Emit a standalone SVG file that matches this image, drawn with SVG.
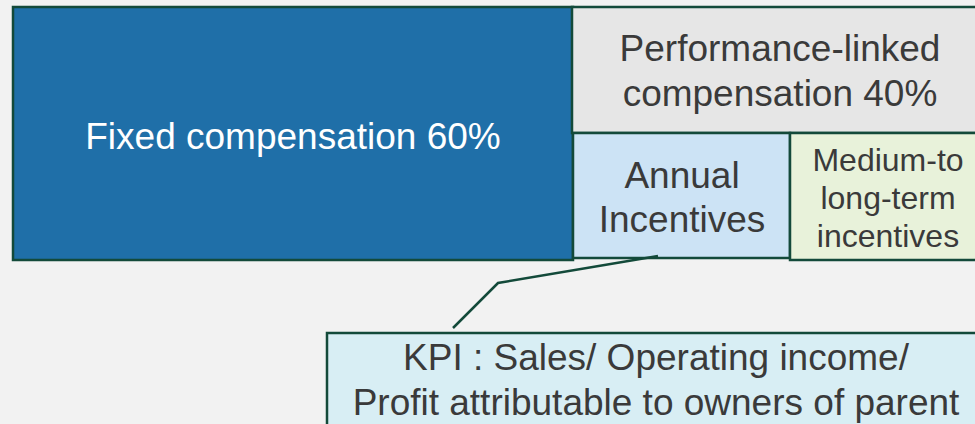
<svg xmlns="http://www.w3.org/2000/svg" width="975" height="424" viewBox="0 0 975 424">
<style>
.box{stroke:#134a3a;stroke-width:2.5}
.t{font-family:"Liberation Sans",Arial,sans-serif;font-size:37px;text-anchor:middle;fill:#3a3a3a}
.s{font-size:32px}
.w{fill:#ffffff}
.conn{fill:none;stroke:#134a3a;stroke-width:2.5}
</style>
<rect x="0" y="0" width="975" height="424" fill="#f2f2f2"/>
<g id="fixed">
<rect class="box" x="13" y="7" width="560" height="253" fill="#1f6fa8"/>
<text class="t w" x="293" y="149">Fixed compensation 60%</text>
</g>
<g id="performance">
<rect class="box" x="572" y="7" width="416" height="126" fill="#e6e6e6"/>
<text class="t" x="780" y="61">Performance-linked</text>
<text class="t" x="780" y="106">compensation 40%</text>
</g>
<g id="annual">
<rect class="box" x="573" y="133" width="217" height="125" fill="#cce3f5"/>
<text class="t" x="682" y="188">Annual</text>
<text class="t" x="682" y="232">Incentives</text>
</g>
<g id="medium">
<rect class="box" x="790" y="133" width="198" height="127" fill="#e8f2da"/>
<text class="t s" x="888" y="171">Medium-to</text>
<text class="t s" x="888" y="209">long-term</text>
<text class="t s" x="888" y="247">incentives</text>
</g>
<g id="connectors">
<polyline class="conn" points="658,256 498,283 453,328"/>
</g>
<g id="kpi">
<rect class="box" x="327" y="333" width="660" height="100" fill="#d8eef4"/>
<text class="t" x="656" y="370">KPI : Sales/ Operating income/</text>
<text class="t" x="656" y="415">Profit attributable to owners of parent</text>
</g>
</svg>
